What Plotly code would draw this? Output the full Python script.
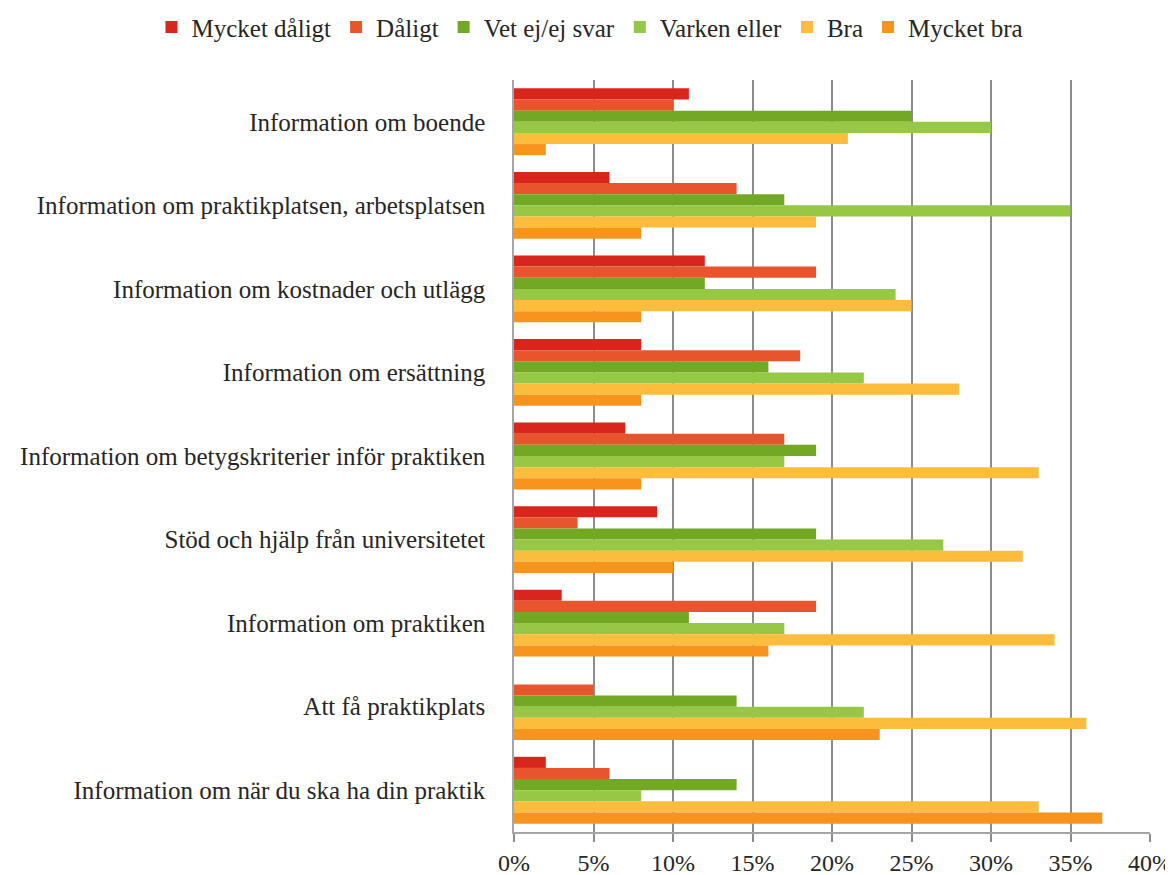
import plotly.graph_objects as go

categories = [
    "Information om boende",
    "Information om praktikplatsen, arbetsplatsen",
    "Information om kostnader och utlägg",
    "Information om ersättning",
    "Information om betygskriterier inför praktiken",
    "Stöd och hjälp från universitetet",
    "Information om praktiken",
    "Att få praktikplats",
    "Information om när du ska ha din praktik",
]

series_names = ["Mycket dåligt", "Dåligt", "Vet ej/ej svar", "Varken eller", "Bra", "Mycket bra"]

mycket_daligt = [11, 6, 12, 8, 7, 9, 3, 0, 2]
daligt = [10, 14, 19, 18, 17, 4, 19, 5, 6]
vet_ej = [25, 17, 12, 16, 19, 19, 11, 14, 14]
varken_eller = [30, 35, 24, 22, 17, 27, 17, 22, 8]
bra = [21, 19, 25, 28, 33, 32, 34, 36, 33]
mycket_bra = [2, 8, 8, 8, 8, 10, 16, 23, 37]

tick_vals = [0, 5, 10, 15, 20, 25, 30, 35, 40]
tick_text = ["0%", "5%", "10%", "15%", "20%", "25%", "30%", "35%", "40%"]

colors = ["#d9261c", "#e8542c", "#73a824", "#96c745", "#fbbd3b", "#f7941d"]

all_series = [mycket_daligt, daligt, vet_ej, varken_eller, bra, mycket_bra]

font_family = "Liberation Serif, DejaVu Serif, serif"

fig = go.Figure()
for name, vals, col in zip(series_names, all_series, colors):
    fig.add_trace(go.Bar(
        y=categories, x=vals, name=name, orientation="h",
        marker=dict(color=col, line=dict(width=0)),
    ))

# page body has an 8px margin, so the figure is sized to the visible area
fig.update_layout(
    width=1165, height=867,
    barmode="group", bargap=0.2, bargroupgap=0,
    plot_bgcolor="white", paper_bgcolor="white",
    margin=dict(l=506, r=23, t=72, b=43, autoexpand=False),
    font=dict(family=font_family, size=25, color="#262626"),
    legend=dict(orientation="h", x=-0.57, xanchor="left",
                y=1.07, yanchor="middle",
                font=dict(size=25), traceorder="normal",
                itemwidth=30),
    showlegend=True,
)
fig.update_xaxes(
    range=[0, 40], tickvals=tick_vals, ticktext=tick_text,
    showgrid=True, gridcolor="#8c8c8c", gridwidth=1.5,
    showline=True, linecolor="#a6a6a6", linewidth=1.5,
    ticks="outside", ticklen=8, tickcolor="#8c8c8c", tickwidth=1.5,
    zeroline=False, tickfont=dict(size=24),
)
fig.update_yaxes(
    autorange="reversed", showline=True, linecolor="#a6a6a6", linewidth=1.5,
    showgrid=False, ticks="", ticklabelstandoff=22, tickfont=dict(size=25),
)

fig.write_html("out.html")
